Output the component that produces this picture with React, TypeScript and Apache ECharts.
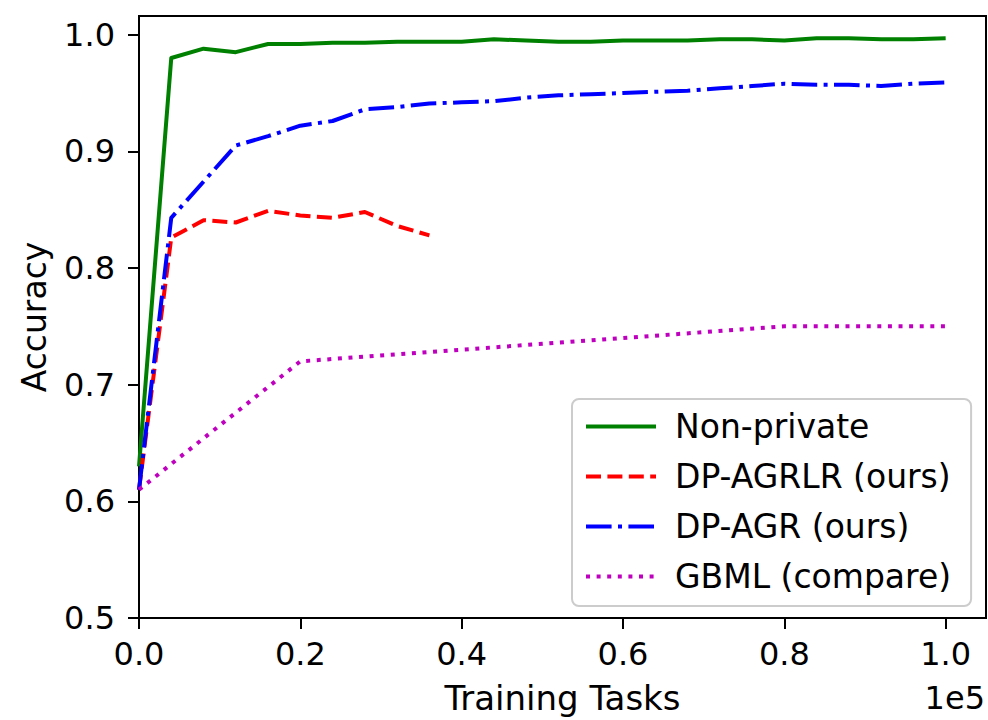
import React, { useEffect, useRef } from "react";
import * as echarts from "echarts";

// Training tasks (raw counts) and accuracy values
const nonPrivateX = [0, 4000, 8000, 12000, 16000, 20000, 24000, 28000, 32000, 36000, 40000, 44000, 48000, 52000, 56000, 60000, 64000, 68000, 72000, 76000, 80000, 84000, 88000, 92000, 96000, 100000];
const nonPrivateY = [0.63, 0.98, 0.988, 0.985, 0.992, 0.992, 0.993, 0.993, 0.994, 0.994, 0.994, 0.996, 0.995, 0.994, 0.994, 0.995, 0.995, 0.995, 0.996, 0.996, 0.995, 0.997, 0.997, 0.996, 0.996, 0.997];

const agrlrX = [0, 4000, 8000, 12000, 16000, 20000, 24000, 28000, 32000, 36000];
const agrlrY = [0.61, 0.826, 0.841, 0.839, 0.849, 0.845, 0.843, 0.848, 0.836, 0.828];

const agrX = [0, 4000, 12000, 16000, 20000, 24000, 28000, 32000, 36000, 40000, 44000, 48000, 52000, 56000, 60000, 64000, 68000, 72000, 76000, 80000, 84000, 88000, 92000, 96000, 100000];
const agrY = [0.61, 0.843, 0.905, 0.913, 0.922, 0.926, 0.936, 0.938, 0.941, 0.942, 0.943, 0.946, 0.948, 0.949, 0.95, 0.951, 0.952, 0.954, 0.956, 0.958, 0.957, 0.957, 0.956, 0.958, 0.959];

const gbmlX = [0, 20000, 40000, 60000, 80000, 100000];
const gbmlY = [0.61, 0.72, 0.73, 0.74, 0.75, 0.75];

const xTicks = [0, 20000, 40000, 60000, 80000, 100000];
const yTicks = [0.5, 0.6, 0.7, 0.8, 0.9, 1.0];

const seriesNames = ["Non-private", "DP-AGRLR (ours)", "DP-AGR (ours)", "GBML (compare)"];

const FONT = "DejaVu Sans";

function pairs(xs: number[], ys: number[]) {
  return xs.map((x, i) => [x, ys[i]]);
}

export default function App() {
  const ref = useRef<HTMLDivElement>(null);
  useEffect(() => {
    if (!ref.current) return;
    const chart = echarts.init(ref.current, null, { renderer: "svg" });
    const lw = 4;
    const colors = ["#008000", "#ff0000", "#0000ff", "#bf00bf"];
    const dashes: any[] = ["solid", [15, 6.4], [25.6, 6.4, 4, 6.4], [4, 6.6]];
    const mk = (i: number, xs: number[], ys: number[]) => ({
      name: seriesNames[i],
      type: "line",
      data: pairs(xs, ys),
      symbol: "none",
      showSymbol: false,
      lineStyle: { color: colors[i], width: lw, type: dashes[i], cap: "butt", join: "round" },
      itemStyle: { color: colors[i] },
      emphasis: { disabled: true },
    });
    chart.setOption({
      animation: false,
      backgroundColor: "#ffffff",
      grid: {
        left: 139,
        top: 16,
        width: 847,
        height: 604,
        show: true,
        borderColor: "#000",
        borderWidth: 2,
        backgroundColor: "transparent",
      },
      xAxis: {
        type: "value",
        min: 0,
        max: 105000,
        name: "Training Tasks",
        nameLocation: "middle",
        nameGap: 63,
        nameTextStyle: { fontFamily: FONT, fontSize: 34, color: "#000" },
        axisLine: { onZero: false, lineStyle: { color: "#000", width: 2 } },
        axisTick: { show: true, length: 11, lineStyle: { color: "#000", width: 2 }, customValues: xTicks },
        axisLabel: {
          fontFamily: FONT,
          fontSize: 32,
          color: "#000",
          margin: 20,
          customValues: xTicks,
          formatter: (v: number) => (v / 1e5).toFixed(1),
        },
        splitLine: { show: false },
      },
      yAxis: {
        type: "value",
        min: 0.5,
        max: 1.016,
        name: "Accuracy",
        nameLocation: "middle",
        nameGap: 88,
        nameRotate: 90,
        nameTextStyle: { fontFamily: FONT, fontSize: 33, color: "#000" },
        axisLine: { onZero: false, lineStyle: { color: "#000", width: 2 } },
        axisTick: { show: true, length: 11, lineStyle: { color: "#000", width: 2 }, customValues: yTicks },
        axisLabel: {
          fontFamily: FONT,
          fontSize: 32,
          color: "#000",
          margin: 24,
          customValues: yTicks,
          formatter: (v: number) => v.toFixed(1),
        },
        splitLine: { show: false },
      },
      legend: {
        orient: "vertical",
        left: 572,
        top: 399,
        data: seriesNames.map((n, i) => ({
          name: n,
          itemStyle: { opacity: 0 },
          lineStyle: { color: colors[i], width: lw, type: dashes[i], cap: "butt" },
        })),
        itemWidth: 70,
        itemHeight: 32,
        itemGap: 17,
        padding: [11, 20, 13, 12],
        backgroundColor: "rgba(255,255,255,0.8)",
        borderColor: "#cccccc",
        borderWidth: 2,
        borderRadius: 7,
        textStyle: { fontFamily: FONT, fontSize: 33, color: "#000", padding: [0, 0, 0, 14], lineHeight: 32 },
        selectedMode: false,
      },
      graphic: [
        {
          type: "text",
          right: 3,
          top: 682,
          style: { text: "1e5", font: `32px "${FONT}"`, fill: "#000" },
        },
      ],
      series: [
        mk(0, nonPrivateX, nonPrivateY),
        mk(1, agrlrX, agrlrY),
        mk(2, agrX, agrY),
        mk(3, gbmlX, gbmlY),
      ],
    });
    return () => chart.dispose();
  }, []);
  return <div ref={ref} style={{ width: 988, height: 720, position: "absolute", left: 0, top: 0 }} />;
}
